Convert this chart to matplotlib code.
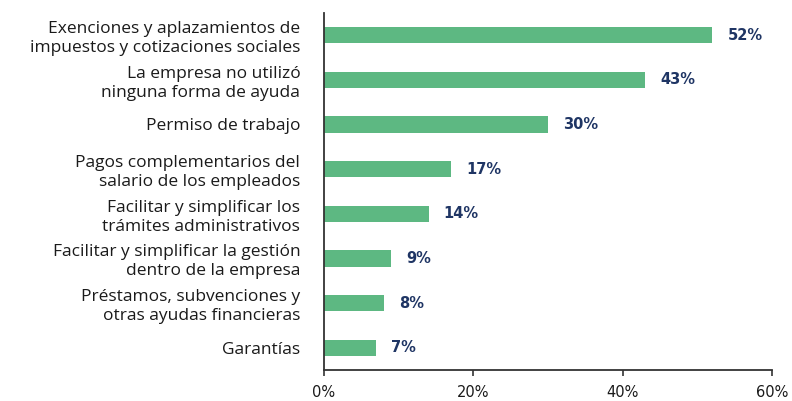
#!/usr/bin/env python3
"""
plot.py: horizontal bar chart of support measures used by companies.
"""
import matplotlib
matplotlib.use("Agg")
import matplotlib.pyplot as plt
from matplotlib.ticker import FuncFormatter

categories = [
    "Exenciones y aplazamientos de\nimpuestos y cotizaciones sociales",
    "La empresa no utilizó\nninguna forma de ayuda",
    "Permiso de trabajo",
    "Pagos complementarios del\nsalario de los empleados",
    "Facilitar y simplificar los\ntrámites administrativos",
    "Facilitar y simplificar la gestión\ndentro de la empresa",
    "Préstamos, subvenciones y\notras ayudas financieras",
    "Garantías",
]
values = [52, 43, 30, 17, 14, 9, 8, 7]
xticks = [0, 20, 40, 60]

GREEN = "#5db882"
NAVY = "#1f3564"
TEXT = "#1a1a1a"


def main():
    plt.rcParams["font.family"] = ["Open Sans", "DejaVu Sans"]
    fig = plt.figure(figsize=(7.92, 4.01), dpi=100)
    ax = fig.add_axes([0.409, 0.077, 0.566, 0.891])

    y = range(len(categories))
    ax.barh(y, values, height=0.36, color=GREEN)
    for yi, v in zip(y, values):
        ax.text(v + 2.0, yi, f"{v}%", va="center", ha="left",
                fontsize=10.5, fontweight="bold", color=NAVY,
                family="DejaVu Sans")

    ax.set_ylim(len(categories) - 0.5, -0.5)
    ax.set_xlim(0, 60)
    ax.set_yticks(list(y))
    ax.set_yticklabels(categories, fontsize=12.5, color=TEXT, linespacing=1.25)
    ax.tick_params(axis="y", length=0, pad=17)
    ax.set_xticks(xticks)
    ax.xaxis.set_major_formatter(FuncFormatter(lambda v, p: f"{v:.0f}%"))
    ax.tick_params(axis="x", length=4, width=1.2, color="#333333",
                   labelsize=10.5, labelcolor=TEXT, pad=7)
    for lab in ax.get_xticklabels():
        lab.set_family("DejaVu Sans")

    for side in ["top", "right"]:
        ax.spines[side].set_visible(False)
    for side in ["left", "bottom"]:
        ax.spines[side].set_color("#333333")
        ax.spines[side].set_linewidth(1.3)

    fig.savefig("out.png", dpi=100)


if __name__ == "__main__":
    main()
